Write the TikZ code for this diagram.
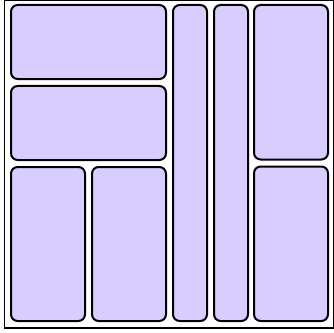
\documentclass[tikz,border=0pt]{standalone}
\usetikzlibrary{positioning}
\definecolor{PanelFill}{RGB}{217,205,255}
\tikzset{
  outline/.style={draw=black,line width=0.045cm},
  panel/.style={draw=black,fill=PanelFill,line width=0.06cm,
    rounded corners=0.2cm,inner sep=0pt,outer sep=0.03cm},
  widepanel/.style={panel,minimum width=4.65cm,minimum height=2.22cm},
  tallpanel/.style={panel,minimum width=2.22cm,minimum height=4.62cm},
  slimpanel/.style={panel,minimum width=1.02cm,minimum height=9.48cm},
  sidepanel/.style={panel,minimum width=2.22cm,minimum height=4.635cm}
}
\begin{document}
\begin{tikzpicture}[node distance=0.15cm]
  \useasboundingbox (0,0) rectangle (10.02,-9.96);
  \draw[outline] (0.135,-0.015) rectangle (10.005,-9.84);
  % left block
  \node[widepanel,anchor=north west] (top) at (0.3,-0.12) {};
  \node[widepanel,below=of top] (mid) {};
  \node[tallpanel,below=of mid.south west,anchor=north west] (botl) {};
  \node[tallpanel,right=of botl] (botr) {};
  % slim columns
  \node[slimpanel,right=of top.north east,anchor=north west] (slima) {};
  \node[slimpanel,right=of slima] (slimb) {};
  % right column
  \node[sidepanel,right=0.12cm of slimb.north east,anchor=north west] (sidetop) {};
  \node[sidepanel,below=of sidetop] (sidebot) {};
\end{tikzpicture}
\end{document}
